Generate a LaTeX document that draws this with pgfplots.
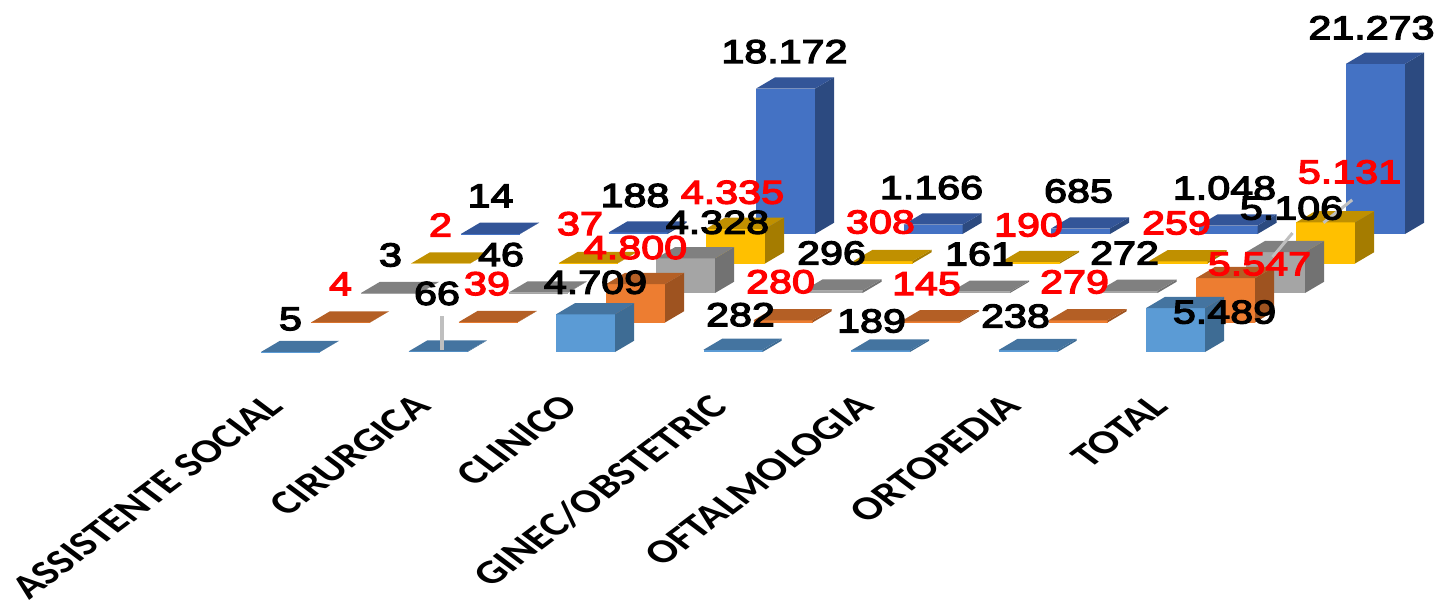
\documentclass[border=0pt]{standalone}
\usepackage{fontspec}
\usepackage{pgfplots}
\pgfplotsset{compat=1.18}
\newfontfamily\labfont{Liberation Sans}[FakeStretch=1.25,FakeBold=4]
\newfontfamily\catfont{Carlito}[Ligatures=TeX]

% front / top / side colours per series (front row = 0)
\definecolor{s0f}{HTML}{5B9BD5}\definecolor{s0t}{HTML}{4474A0}\definecolor{s0s}{HTML}{3E6C94}
\definecolor{s1f}{HTML}{ED7D31}\definecolor{s1t}{HTML}{B45F25}\definecolor{s1s}{HTML}{9E5320}
\definecolor{s2f}{HTML}{A5A5A5}\definecolor{s2t}{HTML}{808080}\definecolor{s2s}{HTML}{727272}
\definecolor{s3f}{HTML}{FFC000}\definecolor{s3t}{HTML}{C09000}\definecolor{s3s}{HTML}{A57C00}
\definecolor{s4f}{HTML}{4472C4}\definecolor{s4t}{HTML}{335598}\definecolor{s4s}{HTML}{2C4A80}
\definecolor{leader}{HTML}{BFBFBF}

% category, series, value
\newcommand\cuboid[3]{%
  \pgfmathsetmacro\xa{#1-0.2}\pgfmathsetmacro\xb{#1+0.2}\pgfmathsetmacro\yb{#2+0.38}%
  \addplot3[fill=s#2f,draw=none,no markers] coordinates {(\xa,#2,0)(\xb,#2,0)(\xb,#2,#3)(\xa,#2,#3)} -- cycle;
  \addplot3[fill=s#2s,draw=none,no markers] coordinates {(\xb,#2,0)(\xb,\yb,0)(\xb,\yb,#3)(\xb,#2,#3)} -- cycle;
  \addplot3[fill=s#2t,draw=none,no markers] coordinates {(\xa,#2,#3)(\xb,#2,#3)(\xb,\yb,#3)(\xa,\yb,#3)} -- cycle;
}
% category, series, value, dx, dy (reference pixels), colour, text
\newcommand\lab[7]{\node[text=#6,font=\labfont\fontsize{16.5}{16.5}\selectfont,inner sep=0pt,xshift=#4*0.5pt,yshift=(#5+#2*0.5)*0.5pt] at (axis cs:#1,#2,#3) {#7};}

\begin{document}
\begin{tikzpicture}
\path[use as bounding box] (0,0) rectangle (721.5pt,300.5pt);
\begin{axis}[
    at={(145.25pt,124.5pt)},anchor=origin,
    x={(73.75pt,0pt)},y={(25pt,14.75pt)},z={(0pt,0.004pt)},
    xmin=-0.5,xmax=6.5,ymin=0,ymax=4.38,zmin=0,zmax=21273,
    clip=false,
    axis line style={draw=none},
    tick style={draw=none},
    xtick={0,1,2,3,4,5,6},
    xticklabels={ASSISTENTE SOCIAL,CIRURGICA,CLINICO,GINEC/OBSTETRIC,OFTALMOLOGIA,ORTOPEDIA,TOTAL},
    ytick=\empty,ztick=\empty,
    xticklabel style={font=\catfont\bfseries\fontsize{16.8}{16.8}\selectfont,xshift=-13pt,yshift=-20pt,xscale=1.33,rotate=45,anchor=north east,inner sep=0pt},
]
% back row first
\cuboid{0}{4}{14}\cuboid{1}{4}{188}\cuboid{2}{4}{18172}\cuboid{3}{4}{1166}\cuboid{4}{4}{685}\cuboid{5}{4}{1048}\cuboid{6}{4}{21273}
\cuboid{0}{3}{2}\cuboid{1}{3}{37}\cuboid{2}{3}{4335}\cuboid{3}{3}{308}\cuboid{4}{3}{190}\cuboid{5}{3}{259}\cuboid{6}{3}{5131}
\cuboid{0}{2}{3}\cuboid{1}{2}{46}\cuboid{2}{2}{4328}\cuboid{3}{2}{296}\cuboid{4}{2}{161}\cuboid{5}{2}{272}\cuboid{6}{2}{5106}
\cuboid{0}{1}{4}\cuboid{1}{1}{39}\cuboid{2}{1}{4800}\cuboid{3}{1}{280}\cuboid{4}{1}{145}\cuboid{5}{1}{279}\cuboid{6}{1}{5547}
\cuboid{0}{0}{5}\cuboid{1}{0}{66}\cuboid{2}{0}{4709}\cuboid{3}{0}{282}\cuboid{4}{0}{189}\cuboid{5}{0}{238}\cuboid{6}{0}{5489}

% leader lines
\addplot3[leader,line width=1.8pt,no markers] coordinates {(1,0.08,0)(1,0.08,4250)};
\addplot3[leader,line width=1.5pt,no markers] coordinates {(5.98,2,4500)(6.115,2,7500)};
\addplot3[leader,line width=1.5pt,no markers] coordinates {(5.986,3,5100)(6.181,3,7950)};

% data labels
\lab{0}{0}{5}{0}{33}{black}{5}
\lab{0}{1}{4}{0}{38}{red}{4}
\lab{0}{2}{3}{0}{37}{black}{3}
\lab{0}{3}{2}{0}{37}{red}{2}
\lab{0}{4}{14}{0}{36}{black}{14}
\lab{1}{0}{66}{-1}{58}{black}{66}
\lab{1}{1}{39}{-1}{38}{red}{39}
\lab{1}{2}{46}{-37}{37}{black}{46}
\lab{1}{3}{37}{-8}{38}{red}{37}
\lab{1}{4}{188}{-3}{35}{black}{188}
\lab{2}{0}{4709}{10}{32}{black}{4.709}
\lab{2}{1}{4800}{0}{36}{red}{4.800}
\lab{2}{2}{4328}{32}{35}{black}{4.328}
\lab{2}{3}{4335}{-3}{35}{red}{4.335}
\lab{2}{4}{18172}{-1}{35}{black}{18.172}
\lab{3}{0}{282}{7.5}{35}{black}{282}
\lab{3}{1}{280}{-2.5}{38}{red}{280}
\lab{3}{2}{296}{-1.5}{36.6}{black}{296}
\lab{3}{3}{308}{-2.5}{37.5}{red}{308}
\lab{3}{4}{1166}{-1.5}{35}{black}{1.166}
\lab{4}{0}{189}{-9}{29.5}{black}{189}
\lab{4}{1}{145}{-4}{37}{red}{145}
\lab{4}{2}{161}{-1}{36.7}{black}{161}
\lab{4}{3}{190}{-2}{35.5}{red}{190}
\lab{4}{4}{685}{-2}{35.5}{black}{685}
\lab{5}{0}{238}{-12.5}{34}{black}{238}
\lab{5}{1}{279}{-3.5}{37.8}{red}{279}
\lab{5}{2}{272}{-3.5}{36.8}{black}{272}
\lab{5}{3}{259}{-1.5}{37}{red}{259}
\lab{5}{4}{1048}{-3.5}{35.6}{black}{1.048}
\lab{6}{0}{5489}{49}{-4}{black}{5.489}
\lab{6}{1}{5547}{34}{13.6}{red}{5.547}
\lab{6}{2}{5106}{16}{43}{black}{5.106}
\lab{6}{3}{5131}{24}{49}{red}{5.131}
\lab{6}{4}{21273}{-4}{34}{black}{21.273}
\end{axis}
\end{tikzpicture}
\end{document}
